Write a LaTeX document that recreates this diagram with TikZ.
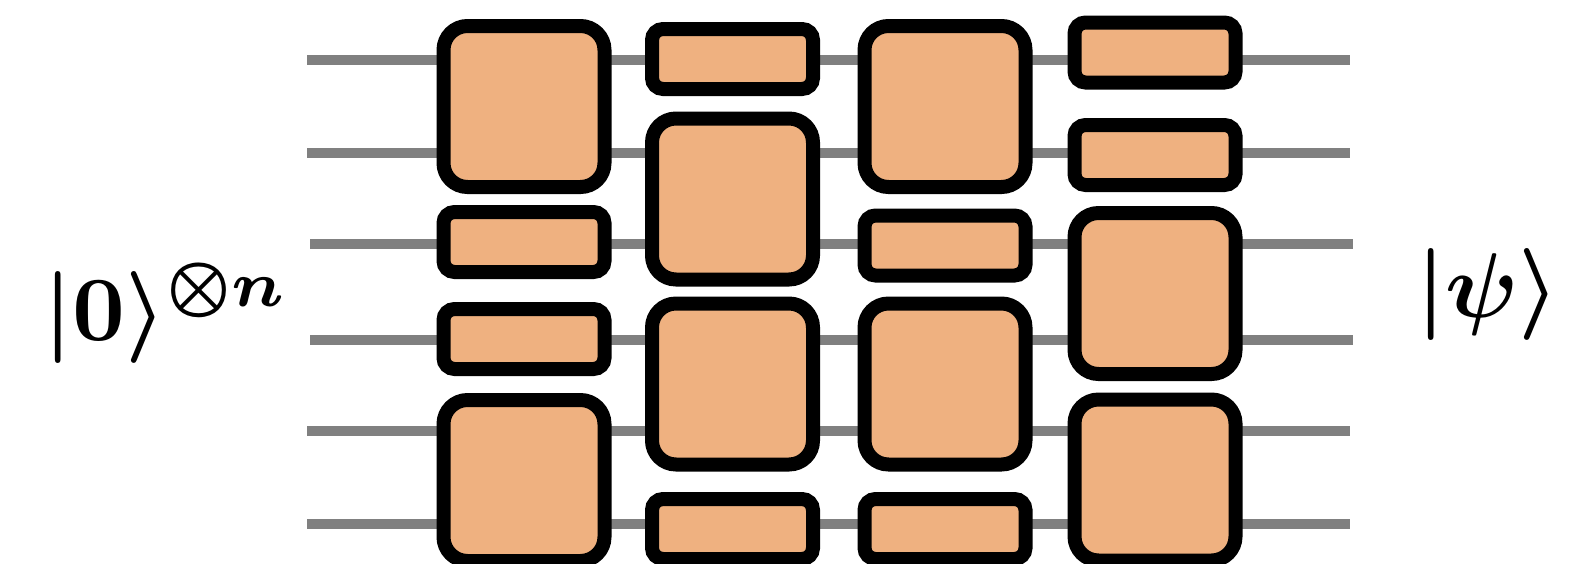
\documentclass[tikz,border=0pt]{standalone}
\definecolor{gatefill}{RGB}{239,177,128}
\definecolor{wiregray}{RGB}{128,128,128}
\tikzset{
  wire/.style={draw=wiregray, line width=5pt},
  biggate/.style={draw=black, fill=gatefill, line width=7pt, rounded corners=12pt,
    minimum width=80.5pt, minimum height=80.5pt, inner sep=0pt, outer sep=0pt},
  smallgate/.style={draw=black, fill=gatefill, line width=7pt, rounded corners=5.5pt,
    minimum width=80.5pt, minimum height=30pt, inner sep=0pt, outer sep=0pt},
  label/.style={inner sep=0pt, outer sep=0pt, anchor=base west, scale=4.6, font=\boldmath}
}
\begin{document}
\begin{tikzpicture}[x=0.5pt, y=-0.5pt]
\useasboundingbox (0,0) rectangle (1579,563);
% wire end points
\coordinate (w1l) at (307,60);  \coordinate (w1r) at (1350,60);
\coordinate (w2l) at (307,153); \coordinate (w2r) at (1350,153);
\coordinate (w3l) at (310,244); \coordinate (w3r) at (1353,244);
\coordinate (w4l) at (310,340); \coordinate (w4r) at (1353,340);
\coordinate (w5l) at (307,431); \coordinate (w5r) at (1350,431);
\coordinate (w6l) at (307,524); \coordinate (w6r) at (1350,524);
\foreach \i in {1,...,6} { \draw[wire] (w\i l) -- (w\i r); }
% column 1
\node[biggate]   (a1) at (524,106.5) {};
\node[smallgate] (a2) at (524,242) {};
\node[smallgate] (a3) at (524,339) {};
\node[biggate]   (a4) at (524,480.5) {};
% column 2
\node[smallgate] (b1) at (732.5,59) {};
\node[biggate]   (b2) at (732.5,199) {};
\node[biggate]   (b3) at (732.5,384) {};
\node[smallgate] (b4) at (732.5,529) {};
% column 3
\node[biggate]   (c1) at (945,106.5) {};
\node[smallgate] (c2) at (945,245.5) {};
\node[biggate]   (c3) at (945,384) {};
\node[smallgate] (c4) at (945,529) {};
% column 4
\node[smallgate] (d1) at (1155,52.5) {};
\node[smallgate] (d2) at (1155,155) {};
\node[biggate]   (d3) at (1155,293.5) {};
\node[biggate]   (d4) at (1155,480) {};
% labels
\node[label] (lin)  at (43,340)   {$|0\rangle^{\otimes n}$};
\node[label] (lout) at (1416,317) {$|\psi\rangle$};
\end{tikzpicture}
\end{document}
